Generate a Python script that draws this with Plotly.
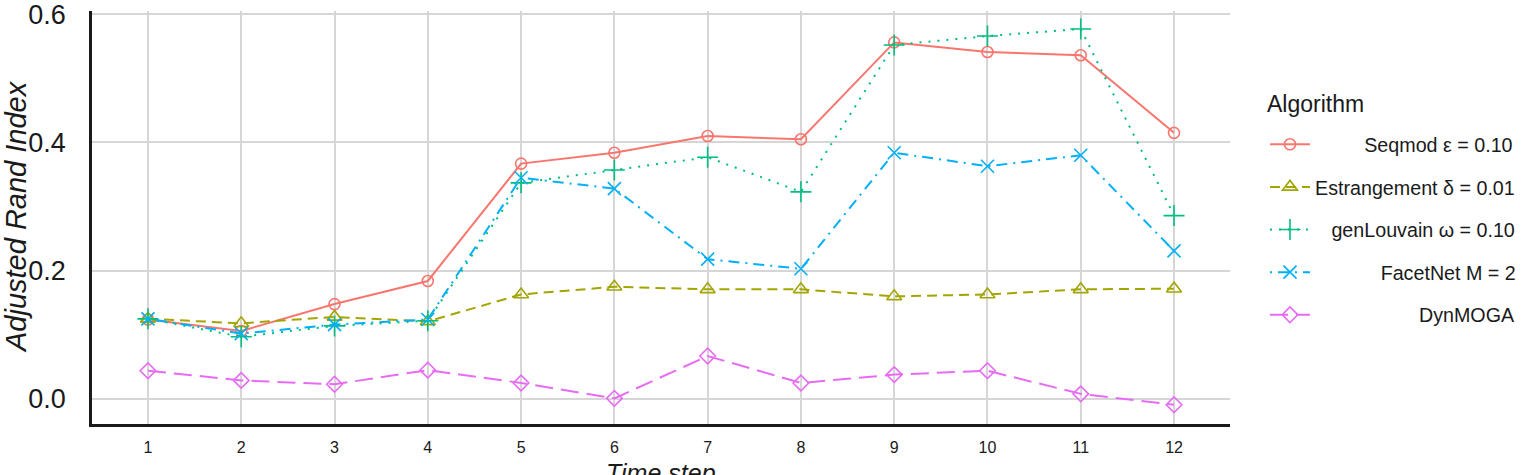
import plotly.graph_objects as go

# ---- data ----
time_steps = [1, 2, 3, 4, 5, 6, 7, 8, 9, 10, 11, 12]
seqmod = [0.124, 0.106, 0.148, 0.184, 0.367, 0.384, 0.410, 0.405, 0.556, 0.541, 0.536, 0.415]
estrangement = [0.125, 0.118, 0.128, 0.121, 0.163, 0.175, 0.171, 0.171, 0.160, 0.163, 0.171, 0.172]
genlouvain = [0.125, 0.097, 0.114, 0.122, 0.337, 0.357, 0.377, 0.323, 0.552, 0.566, 0.577, 0.286]
facetnet = [0.125, 0.102, 0.116, 0.124, 0.345, 0.328, 0.218, 0.203, 0.384, 0.363, 0.380, 0.231]
dynmoga = [0.044, 0.029, 0.023, 0.045, 0.025, 0.001, 0.067, 0.025, 0.038, 0.044, 0.008, -0.009]
series_names = ["Seqmod \u03b5 = 0.10", "Estrangement \u03b4 = 0.01", "genLouvain \u03c9 = 0.10",
                "FacetNet M = 2", "DynMOGA"]
y_ticks = [0.0, 0.2, 0.4, 0.6]
y_tick_labels = ["0.0", "0.2", "0.4", "0.6"]
x_title = "Time step"
y_title = "Adjusted Rand Index"
legend_title = "Algorithm"

# ---- style ----
colors = ["#F8766D", "#A3A500", "#00BF7D", "#00B0F6", "#E76BF3"]
dashes = ["solid", "10px,6px", "2px,7px", "2px,6px,11px,6px", "18px,8px"]
symbols = ["circle-open", "triangle-up-open", "cross-thin-open", "x-thin-open", "diamond-open"]
msizes = [11, 13, 15, 13, 12]
label_pad = [9, 0, 3, 12, 19]  # non-breaking spaces to right-align legend labels

values = [seqmod, estrangement, genlouvain, facetnet, dynmoga]
FONT = "Liberation Sans, Arial, sans-serif"
TXT = "#1a1a1a"

fig = go.Figure()
for i, (name, vals) in enumerate(zip(series_names, values)):
    fig.add_trace(go.Scatter(
        x=time_steps, y=vals, mode="lines+markers",
        name="\u00a0" * label_pad[i] + name,
        legendgroup=f"g{i}",
        line=dict(color=colors[i], width=2, dash=dashes[i]),
        marker=dict(symbol=symbols[i], size=msizes[i], color=colors[i],
                    line=dict(color=colors[i], width=1.6)),
    ))

L, R, T, B = 92, 1230, 11, 424
W, H = 1529, 475

def px_x(p):
    return (p - L) / (R - L)

def px_y(p):
    return (B - p) / (B - T)

fig.update_layout(
    width=W, height=H,
    margin=dict(l=L, r=W - R, t=T, b=H - B, autoexpand=False),
    paper_bgcolor="white", plot_bgcolor="white",
    font=dict(family=FONT, color=TXT),
    showlegend=True,
    legend=dict(
        x=px_x(1265), y=px_y(125), xanchor="left", yanchor="top",
        font=dict(size=19.7, family=FONT, color=TXT),
        tracegroupgap=14, itemwidth=40,
        bgcolor="rgba(0,0,0,0)",
    ),
    xaxis=dict(
        range=[0.4, 12.6], tickvals=time_steps, ticktext=[str(t) for t in time_steps],
        showgrid=True, gridcolor="#d6d6d6", gridwidth=2,
        showline=True, linecolor=TXT, linewidth=2.5,
        zeroline=False, ticks="", ticklabelstandoff=7, automargin=False,
        tickfont=dict(size=16, family=FONT, color=TXT),
    ),
    yaxis=dict(
        range=[-0.039, 0.605], tickvals=y_ticks, ticktext=y_tick_labels,
        showgrid=True, gridcolor="#d6d6d6", gridwidth=2,
        showline=True, linecolor=TXT, linewidth=2.5,
        zeroline=False, ticks="", ticklabelstandoff=18, automargin=False,
        ticklabeloverflow="allow",
        tickfont=dict(size=27, family=FONT, color=TXT),
    ),
    annotations=[
        dict(text=f"<i>{x_title}</i>", xref="paper", yref="paper",
             x=0.5, y=px_y(457), xanchor="center", yanchor="top",
             showarrow=False, font=dict(size=25, family=FONT, color=TXT)),
        dict(text=f"<i>{y_title}</i>", xref="paper", yref="paper",
             x=px_x(16), y=px_y(217), xanchor="center", yanchor="middle",
             textangle=-90, showarrow=False, font=dict(size=29, family=FONT, color=TXT)),
        dict(text=legend_title, xref="paper", yref="paper",
             x=px_x(1265), y=px_y(104), xanchor="left", yanchor="middle",
             showarrow=False, font=dict(size=23, family=FONT, color=TXT)),
    ],
)

fig.write_html("out.html")
